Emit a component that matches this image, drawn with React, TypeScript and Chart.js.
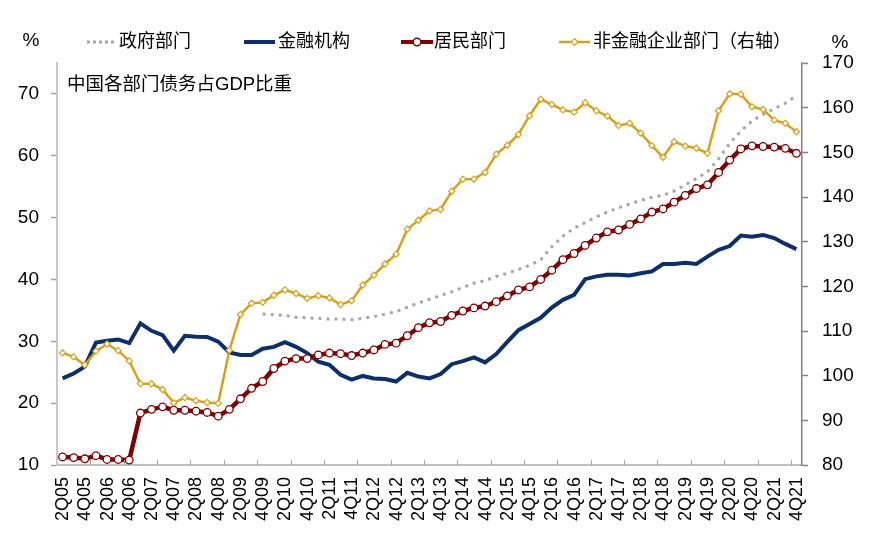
import React, { useEffect, useRef } from 'react';
import { Chart, registerables } from 'chart.js';

Chart.register(...registerables);

const quarters = [
  '2Q05', '3Q05', '4Q05',
  '1Q06', '2Q06', '3Q06', '4Q06',
  '1Q07', '2Q07', '3Q07', '4Q07',
  '1Q08', '2Q08', '3Q08', '4Q08',
  '1Q09', '2Q09', '3Q09', '4Q09',
  '1Q10', '2Q10', '3Q10', '4Q10',
  '1Q11', '2Q11', '3Q11', '4Q11',
  '1Q12', '2Q12', '3Q12', '4Q12',
  '1Q13', '2Q13', '3Q13', '4Q13',
  '1Q14', '2Q14', '3Q14', '4Q14',
  '1Q15', '2Q15', '3Q15', '4Q15',
  '1Q16', '2Q16', '3Q16', '4Q16',
  '1Q17', '2Q17', '3Q17', '4Q17',
  '1Q18', '2Q18', '3Q18', '4Q18',
  '1Q19', '2Q19', '3Q19', '4Q19',
  '1Q20', '2Q20', '3Q20', '4Q20',
  '1Q21', '2Q21', '3Q21', '4Q21',
];

const seriesNames = ['政府部门', '金融机构', '居民部门', '非金融企业部门（右轴）'];
const annotationText = '中国各部门债务占GDP比重';
const unitLabel = '%';

const leftTicks = [10, 20, 30, 40, 50, 60, 70];
const rightTicks = [80, 90, 100, 110, 120, 130, 140, 150, 160, 170];

const government: (number | null)[] = [
  null, null, null, null, null, null, null, null, null, null,
  null, null, null, null, null, null, null, null,
  34.4, 34.3, 34.2, 33.9, 33.8, 33.7, 33.6, 33.6, 33.5, 33.7,
  34.0, 34.4, 34.8, 35.5, 36.2, 36.8, 37.4, 38.0, 38.7, 39.4,
  39.8, 40.5, 41.0, 41.6, 42.3, 43.2, 45.3, 47.0, 48.3, 49.2,
  50.1, 50.9, 51.6, 52.2, 52.8, 53.3, 53.6, 54.3, 55.3, 56.3,
  57.4, 59.5, 62.0, 64.0, 65.6, 66.7, 67.6, 68.5, 69.7,
];

const financial = [
  24.0, 24.8, 25.9, 29.8, 30.1, 30.3, 29.7, 32.9, 31.7, 31.0,
  28.5, 30.9, 30.75, 30.7, 29.95, 28.2, 27.8, 27.8, 28.8, 29.1,
  29.85, 29.1, 28.1, 26.7, 26.2, 24.6, 23.8, 24.4, 24.0, 23.9,
  23.5, 24.9, 24.3, 24.0, 24.7, 26.3, 26.8, 27.4, 26.6, 27.95,
  29.9, 31.8, 32.8, 33.8, 35.45, 36.7, 37.5, 40.05, 40.5, 40.75,
  40.75, 40.65, 41.0, 41.3, 42.5, 42.5, 42.7, 42.5, 43.7, 44.8,
  45.4, 47.1, 46.9, 47.2, 46.7, 45.75, 44.9,
];

const household = [
  11.3, 11.2, 11.0, 11.5, 10.9, 10.9, 10.8, 18.4, 19.0, 19.4,
  18.85, 18.85, 18.7, 18.5, 17.9, 19.0, 20.7, 22.4, 23.5, 25.6,
  26.8, 27.2, 27.2, 27.8, 28.1, 28.0, 27.7, 28.1, 28.6, 29.5,
  29.7, 30.9, 32.2, 33.0, 33.2, 34.2, 34.9, 35.4, 35.7, 36.4,
  37.35, 38.3, 38.8, 40.0, 41.5, 43.2, 44.2, 45.5, 46.7, 47.7,
  48.0, 48.9, 49.8, 50.9, 51.4, 52.5, 53.6, 54.7, 55.3, 57.3,
  59.3, 61.1, 61.6, 61.5, 61.4, 61.2, 60.4,
];

const corporate = [
  105.1, 104.2, 102.4, 105.5, 107.1, 105.6, 103.3, 98.2, 98.2, 96.9,
  93.9, 95.1, 94.4, 94.0, 93.8, 105.7, 113.7, 116.2, 116.4, 118.0,
  119.2, 118.4, 117.3, 117.9, 117.4, 115.9, 116.8, 120.3, 122.5, 125.0,
  127.2, 132.8, 134.8, 136.9, 137.2, 141.3, 144.0, 144.0, 145.5, 149.6,
  151.6, 154.0, 158.2, 161.9, 160.7, 159.5, 159.0, 161.1, 159.3, 158.1,
  156.0, 156.5, 154.3, 151.5, 148.9, 152.4, 151.4, 150.9, 149.8, 159.3,
  163.1, 163.0, 160.2, 159.6, 157.2, 156.5, 154.6,
];

const FONT = "Arial, 'Liberation Sans', 'Noto Sans CJK SC', sans-serif";
const GRAY = '#a6a6a6';
const NAVY = '#0c2f6b';
const DARKRED = '#7f0000';
const GOLD = '#d6a21c';

const overlayPlugin = {
  id: 'overlay',
  afterDraw(chart: any) {
    const ctx = chart.ctx as CanvasRenderingContext2D;
    const xs = chart.scales.x;
    const area = chart.chartArea;
    const step = xs.getPixelForValue(1) - xs.getPixelForValue(0);
    ctx.save();

    // inner tick marks on category axis, every 3 quarters
    ctx.strokeStyle = '#a0a0a0';
    ctx.lineWidth = 1;
    for (let i = 3; i < quarters.length; i += 3) {
      const px = Math.round(xs.getPixelForValue(i) - step / 2) + 0.5;
      ctx.beginPath();
      ctx.moveTo(px, area.bottom);
      ctx.lineTo(px, area.bottom - 5);
      ctx.stroke();
    }

    // rotated category labels (reading bottom to top)
    ctx.fillStyle = '#000';
    ctx.font = `18px ${FONT}`;
    ctx.textAlign = 'right';
    ctx.textBaseline = 'middle';
    quarters.forEach((q, i) => {
      if (i % 2 !== 0) return;
      const px = xs.getPixelForValue(i);
      ctx.save();
      ctx.translate(px + 0.5, area.bottom + 12);
      ctx.rotate(-Math.PI / 2);
      ctx.fillText(q, 0, 0);
      ctx.restore();
    });

    // unit labels
    ctx.textAlign = 'center';
    ctx.font = `19px ${FONT}`;
    ctx.fillText(unitLabel, 31, 41);
    ctx.fillText(unitLabel, 840, 43);

    // annotation
    ctx.textAlign = 'left';
    ctx.font = `18.5px ${FONT}`;
    ctx.fillText(annotationText, 67, 85);

    // legend
    const ly = 42;
    ctx.font = `18px ${FONT}`;
    // government: dotted gray
    ctx.strokeStyle = GRAY;
    ctx.lineWidth = 3;
    ctx.setLineDash([3, 3]);
    ctx.beginPath();
    ctx.moveTo(87, ly);
    ctx.lineTo(115, ly);
    ctx.stroke();
    ctx.setLineDash([]);
    ctx.fillText(seriesNames[0], 119, ly);
    // financial: navy line
    ctx.strokeStyle = NAVY;
    ctx.lineWidth = 4;
    ctx.beginPath();
    ctx.moveTo(244, ly);
    ctx.lineTo(275, ly);
    ctx.stroke();
    ctx.fillText(seriesNames[1], 278, ly);
    // household: dark red with circle
    ctx.strokeStyle = DARKRED;
    ctx.lineWidth = 4;
    ctx.beginPath();
    ctx.moveTo(401, ly);
    ctx.lineTo(433, ly);
    ctx.stroke();
    ctx.beginPath();
    ctx.arc(417, ly, 3.8, 0, Math.PI * 2);
    ctx.fillStyle = '#fff';
    ctx.fill();
    ctx.lineWidth = 1.5;
    ctx.stroke();
    ctx.fillStyle = '#000';
    ctx.fillText(seriesNames[2], 434, ly);
    // corporate: gold with diamond
    ctx.strokeStyle = GOLD;
    ctx.lineWidth = 2.5;
    ctx.beginPath();
    ctx.moveTo(559, ly);
    ctx.lineTo(590, ly);
    ctx.stroke();
    ctx.beginPath();
    ctx.moveTo(574.5, ly - 3.5);
    ctx.lineTo(578, ly);
    ctx.lineTo(574.5, ly + 3.5);
    ctx.lineTo(571, ly);
    ctx.closePath();
    ctx.fillStyle = '#fff';
    ctx.fill();
    ctx.lineWidth = 1.2;
    ctx.stroke();
    ctx.fillStyle = '#000';
    ctx.fillText(seriesNames[3], 593, ly);

    ctx.restore();
  },
};

export default function App() {
  const canvasRef = useRef<HTMLCanvasElement | null>(null);

  useEffect(() => {
    document.body.style.margin = '0';
    const canvas = canvasRef.current;
    if (!canvas) return;
    const chart = new Chart(canvas, {
      type: 'line',
      data: {
        labels: quarters,
        datasets: [
          {
            label: seriesNames[0],
            data: government,
            yAxisID: 'y',
            borderColor: GRAY,
            borderWidth: 3,
            borderDash: [3, 5],
            pointRadius: 0,
            tension: 0,
            spanGaps: false,
            order: 4,
          },
          {
            label: seriesNames[1],
            data: financial,
            yAxisID: 'y',
            borderColor: NAVY,
            borderWidth: 4,
            pointRadius: 0,
            tension: 0,
            order: 3,
          },
          {
            label: seriesNames[2],
            data: household,
            yAxisID: 'y',
            borderColor: DARKRED,
            borderWidth: 4.5,
            pointRadius: 3.8,
            pointStyle: 'circle',
            pointBackgroundColor: '#ffffff',
            pointBorderColor: DARKRED,
            pointBorderWidth: 1.3,
            tension: 0,
            order: 2,
          },
          {
            label: seriesNames[3],
            data: corporate,
            yAxisID: 'y1',
            borderColor: GOLD,
            borderWidth: 2.5,
            pointRadius: 3.1,
            pointStyle: 'rectRot',
            pointBackgroundColor: '#ffffff',
            pointBorderColor: GOLD,
            pointBorderWidth: 1.2,
            tension: 0,
            order: 1,
          },
        ],
      },
      options: {
        responsive: false,
        animation: false,
        devicePixelRatio: 1,
        layout: { padding: { top: 63, left: 0, right: 0, bottom: 0 } },
        plugins: {
          legend: { display: false },
          tooltip: { enabled: false },
        },
        scales: {
          x: {
            type: 'category',
            offset: true,
            grid: { display: true, drawOnChartArea: false, drawTicks: false, offset: true, color: 'rgba(0,0,0,0)' },
            border: { display: true, color: '#bfbfbf', width: 2 },
            ticks: { display: false, autoSkip: false },
            afterFit: (s: any) => { s.height = 80; },
          },
          y: {
            type: 'linear',
            position: 'left',
            min: 10,
            max: 75,
            afterBuildTicks: (s: any) => { s.ticks = leftTicks.map((v) => ({ value: v })); },
            ticks: { color: '#000', font: { family: FONT, size: 19 }, padding: 12 },
            grid: { drawOnChartArea: false, tickLength: 6, tickColor: '#a0a0a0', tickWidth: 1.5 },
            border: { display: true, color: '#c8c8c8', width: 2 },
            afterFit: (s: any) => { s.width = 57; },
          },
          y1: {
            type: 'linear',
            position: 'right',
            min: 80,
            max: 170,
            afterBuildTicks: (s: any) => { s.ticks = rightTicks.map((v) => ({ value: v })); },
            ticks: { color: '#000', font: { family: FONT, size: 19 }, padding: 14 },
            grid: { drawOnChartArea: false, tickLength: 6, tickColor: '#808080', tickWidth: 1.5 },
            border: { display: true, color: '#808080', width: 1.5 },
            afterFit: (s: any) => { s.width = 73; },
          },
        },
      },
      plugins: [overlayPlugin],
    } as any);
    return () => chart.destroy();
  }, []);

  return (
    <div style={{ width: 875, height: 545, background: '#fff' }}>
      <canvas ref={canvasRef} width={875} height={545} style={{ display: 'block', width: 875, height: 545 }} />
    </div>
  );
}
